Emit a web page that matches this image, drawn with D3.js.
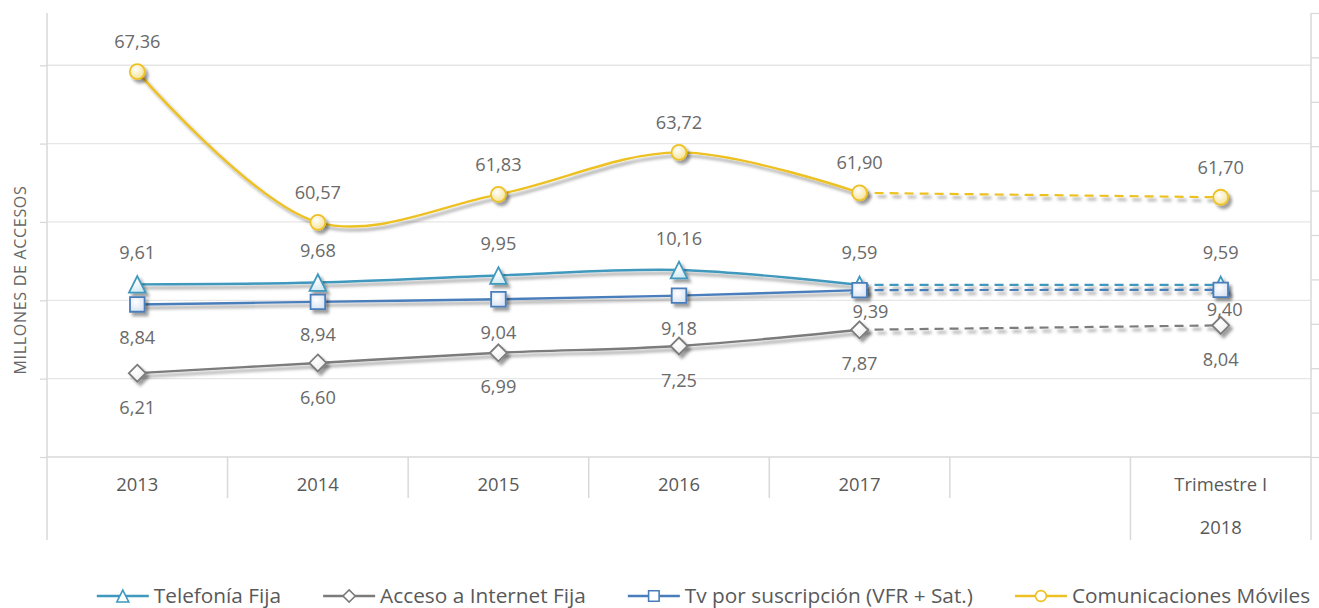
<!DOCTYPE html>
<html><head><meta charset="utf-8">
<script src="https://cdn.jsdelivr.net/npm/d3@7"></script>
<style>
body{margin:0;background:#fff}
svg{display:block;font-family:'Open Sans',sans-serif}
</style></head>
<body><svg id="c" width="1319" height="608"></svg>
<script>
// ---------- data ----------
const categories = ["2013", "2014", "2015", "2016", "2017", "", "Trimestre I"];
const groupLabels = ["", "2018"];
const groupSpans = [6, 1];
const telefonia = [9.61, 9.68, 9.95, 10.16, 9.59, null, 9.59];
const internet  = [6.21, 6.60, 6.99, 7.25, 7.87, null, 8.04];
const tv        = [8.84, 8.94, 9.04, 9.18, 9.39, null, 9.40];
const moviles   = [67.36, 60.57, 61.83, 63.72, 61.90, null, 61.70];
const seriesNames = ["Telefonía Fija", "Acceso a Internet Fija", "Tv por suscripción (VFR + Sat.)", "Comunicaciones Móviles"];
const leftDomain = [3, 20];
const leftTicks = [3, 6, 9, 12, 15, 18];
const rightDomain = [50, 70];
const rightTicks = [50, 52, 54, 56, 58, 60, 62, 64, 66, 68, 70];
const axisTitle = "MILLONES DE ACCESOS";

// ---------- layout ----------
const W = 1319, H = 608;
const L = 47, R = 1311, T = 13, B = 457, CAT_B = 540, CAT_MID = 498;
const svg = d3.select("#c");
const fmt = v => d3.format(".2f")(v).replace(".", ",");

const x = d3.scaleBand().domain(d3.range(categories.length)).range([L, R]).padding(0);
const cx = i => x(i) + x.bandwidth() / 2;
const yL = d3.scaleLinear().domain(leftDomain).range([B, T]);
const yR = d3.scaleLinear().domain(rightDomain).range([B, T]);

// defs
const defs = svg.append("defs");
const f = defs.append("filter").attr("id", "sh").attr("filterUnits", "userSpaceOnUse")
  .attr("x", -2000).attr("y", -2000).attr("width", 5000).attr("height", 5000);
f.append("feDropShadow").attr("dx", 3).attr("dy", 3.5).attr("stdDeviation", 1.6).attr("flood-color", "#000").attr("flood-opacity", 0.38);
function grad(id, c0, c1) {
  const g = defs.append("radialGradient").attr("id", id).attr("cx", "40%").attr("cy", "35%").attr("r", "70%");
  g.append("stop").attr("offset", "0%").attr("stop-color", c0);
  g.append("stop").attr("offset", "100%").attr("stop-color", c1);
}
grad("gY", "#ffffff", "#f5e08e");
grad("gT", "#ffffff", "#cfe8f1");
grad("gS", "#ffffff", "#d6e2f2");
grad("gD", "#ffffff", "#ececec");

// gridlines
svg.append("g").selectAll("line").data(leftTicks.slice(1)).join("line")
  .attr("x1", L).attr("x2", R).attr("y1", d => yL(d)).attr("y2", d => yL(d))
  .attr("stroke", "#e6e6e6").attr("stroke-width", 1.3);

// left axis
const axL = svg.append("g").attr("transform", `translate(${L},0)`)
  .call(d3.axisLeft(yL).tickValues(leftTicks).tickSize(7).tickSizeOuter(0).tickFormat(""));
axL.select(".domain").remove();
axL.selectAll("line").attr("stroke", "#d9d9d9").attr("stroke-width", 1.3);
// right axis
const axR = svg.append("g").attr("transform", `translate(${R},0)`)
  .call(d3.axisRight(yR).tickValues(rightTicks).tickSize(8).tickSizeOuter(0).tickFormat(""));
axR.select(".domain").remove();
axR.selectAll("line").attr("stroke", "#d9d9d9").attr("stroke-width", 1.3);

const axisC = "#d9d9d9";
svg.append("line").attr("x1", L).attr("x2", L).attr("y1", T).attr("y2", CAT_B).attr("stroke", axisC).attr("stroke-width", 1.5);
svg.append("line").attr("x1", R).attr("x2", R).attr("y1", T).attr("y2", CAT_B).attr("stroke", axisC).attr("stroke-width", 1.5);
svg.append("line").attr("x1", L).attr("x2", R).attr("y1", B).attr("y2", B).attr("stroke", axisC).attr("stroke-width", 1.5);

// category dividers
let acc = 0;
const groupEnds = groupSpans.map(s => (acc += s));
d3.range(1, categories.length).forEach(i => {
  const isGroup = groupEnds.includes(i);
  svg.append("line").attr("x1", x(i)).attr("x2", x(i)).attr("y1", B).attr("y2", isGroup ? CAT_B : CAT_MID)
    .attr("stroke", axisC).attr("stroke-width", 1.5);
});
// category labels
svg.append("g").selectAll("text").data(categories).join("text")
  .attr("x", (d, i) => cx(i)).attr("y", 484).attr("dy", "0.36em")
  .attr("text-anchor", "middle").attr("font-size", 18.4).attr("fill", "#595959").text(d => d);
acc = 0;
groupLabels.forEach((g, k) => {
  const start = acc; acc += groupSpans[k];
  const mid = (x(start) + x(acc - 1) + x.bandwidth()) / 2;
  svg.append("text").attr("x", mid).attr("y", 527).attr("dy", "0.36em").attr("text-anchor", "middle")
    .attr("font-size", 18.4).attr("fill", "#595959").text(g);
});

// axis title
svg.append("text").attr("transform", "translate(20,280) rotate(-90)").attr("dy", "0.36em")
  .attr("text-anchor", "middle").attr("font-size", 16).attr("letter-spacing", 0.7)
  .attr("fill", "#666666").text(axisTitle);

// ---------- series ----------
const markers = {
  tri: "M0,-8.3L8.3,8.3L-8.3,8.3Z",
  sq: "M-7.3,-7.3H7.3V7.3H-7.3Z",
  dia: "M0,-8.5L8.5,0L0,8.5L-8.5,0Z",
  circ: d3.symbol(d3.symbolCircle, Math.PI * 7.5 * 7.5)()
};
const series = [
  { name: seriesNames[0], values: telefonia, y: yL, color: "#3f98bd", marker: "tri", fill: "url(#gT)", labelDy: -32 },
  { name: seriesNames[1], values: internet, y: yL, color: "#7b7b7b", marker: "dia", fill: "url(#gD)", labelDy: 34 },
  { name: seriesNames[2], values: tv, y: yL, color: "#4a7ebb", marker: "sq", fill: "url(#gS)", labelDy: 33 },
  { name: seriesNames[3], values: moviles, y: yR, color: "#edc124", marker: "circ", fill: "url(#gY)", labelDy: -30 }
];
// manual label nudges (dx, dy) for Tv series, as in the original
const labelNudge = { 2: { 4: [11, -12], 6: [4, -13] } };

const gLines = svg.append("g");
const gMarks = svg.append("g");
const gLabels = svg.append("g");

series.forEach((s, si) => {
  const idx = d3.range(s.values.length);
  const firstNull = s.values.indexOf(null);
  const solid = idx.filter(i => i < firstNull);
  const bridge = [firstNull - 1, idx.find(i => i > firstNull && s.values[i] != null)];
  const lineSmooth = d3.line().x(i => cx(i)).y(i => s.y(s.values[i])).curve(d3.curveCatmullRom.alpha(0.5));
  const lineStraight = d3.line().x(i => cx(i)).y(i => s.y(s.values[i]));
  gLines.append("path").attr("d", lineSmooth(solid)).attr("fill", "none")
    .attr("stroke", s.color).attr("stroke-width", 2.4).attr("filter", "url(#sh)");
  gLines.append("path").attr("d", lineStraight(bridge)).attr("fill", "none")
    .attr("stroke", s.color).attr("stroke-width", 2.2).attr("stroke-dasharray", "9,6").attr("filter", "url(#sh)");
  const pts = idx.filter(i => s.values[i] != null);
  gMarks.append("g").selectAll("path").data(pts).join("path")
    .attr("transform", i => `translate(${cx(i)},${s.y(s.values[i])})`)
    .attr("d", markers[s.marker]).attr("fill", s.fill).attr("stroke", s.color).attr("stroke-width", 1.8)
    .attr("filter", "url(#sh)");
  gLabels.append("g").selectAll("text").data(pts).join("text")
    .attr("x", i => cx(i) + ((labelNudge[si] && labelNudge[si][i]) ? labelNudge[si][i][0] : 0))
    .attr("y", i => s.y(s.values[i]) + s.labelDy + ((labelNudge[si] && labelNudge[si][i]) ? labelNudge[si][i][1] : 0))
    .attr("dy", "0.36em").attr("text-anchor", "middle").attr("font-size", 18.2).attr("fill", "#6a6a6a")
    .text(i => fmt(s.values[i]));
});

// ---------- legend ----------
const legend = svg.append("g");
const LY = 596, SYM = 52, GAP_T = 5, GAP_I = 42, LFS = 20.8;
const items = series.map(s => {
  const g = legend.append("g");
  const t = g.append("text").attr("x", SYM + GAP_T).attr("y", LY).attr("dy", "0.36em")
    .attr("font-size", LFS).attr("fill", "#595959").text(s.name);
  const w = t.node().getComputedTextLength();
  g.append("line").attr("x1", 0).attr("x2", SYM).attr("y1", LY).attr("y2", LY)
    .attr("stroke", s.color).attr("stroke-width", 2.4);
  g.append("path").attr("transform", `translate(${SYM / 2},${LY}) scale(0.72)`)
    .attr("d", markers[s.marker]).attr("fill", "#fff").attr("stroke", s.color).attr("stroke-width", 2.2);
  return { g, w: SYM + GAP_T + w };
});
const total = d3.sum(items, d => d.w) + GAP_I * (items.length - 1);
let lx = 703.5 - total / 2;
items.forEach(it => { it.g.attr("transform", `translate(${lx},0)`); lx += it.w + GAP_I; });
</script>
</body></html>
